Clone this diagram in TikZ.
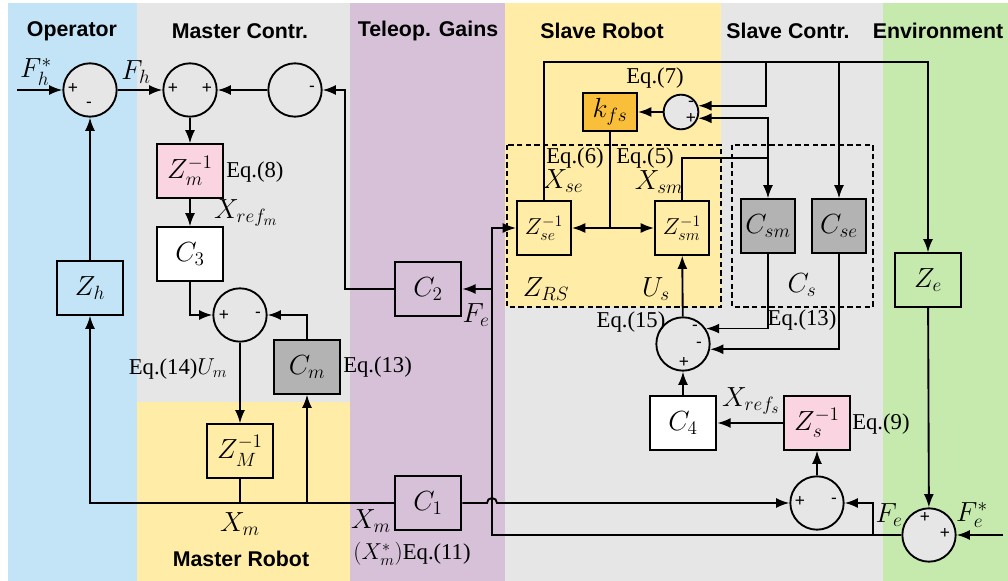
\documentclass[tikz,border=0pt]{standalone}
\usepackage{amsmath}
\usepackage{fontspec}
\setmainfont{Liberation Serif}
\newfontfamily\titlefont{Liberation Sans}
\usetikzlibrary{arrows.meta}

\definecolor{opblue}{RGB}{194,228,246}
\definecolor{ctrgray}{RGB}{230,230,230}
\definecolor{gainpurple}{RGB}{214,193,217}
\definecolor{robyellow}{RGB}{255,236,166}
\definecolor{envgreen}{RGB}{198,233,174}
\definecolor{blockpink}{RGB}{250,212,224}
\definecolor{blockgray}{RGB}{179,179,179}
\definecolor{kfsorange}{RGB}{249,190,58}

\begin{document}
\begin{tikzpicture}[x=0.75pt,y=-0.75pt,line width=1.4pt,
	>={Latex[length=10pt,width=7.5pt]},
	block/.style={draw,minimum width=50pt,minimum height=40pt,inner sep=0pt,font=\fontsize{21}{23}\selectfont},
	sqblock/.style={block,minimum width=40.5pt},
	tight/.style={font=\fontsize{17}{19}\selectfont},
	sum/.style={circle,draw,fill=ctrgray,minimum size=40pt,inner sep=0pt},
	sign/.style={font=\titlefont\fontsize{13}{14}\selectfont,inner sep=0pt},
	eq/.style={font=\fontsize{17}{19}\selectfont,inner sep=1pt},
	sig/.style={font=\fontsize{21}{23}\selectfont,inner sep=1pt},
	title/.style={font=\titlefont\bfseries\fontsize{16}{18}\selectfont,inner sep=0pt}]

		% bands
		\useasboundingbox (0,0) rectangle (1008,581);
		\fill [white] (0,0) rectangle (1008,581);
		\fill [opblue] (8,3) rectangle (137,581);
		\fill [ctrgray] (137,3) rectangle (350,402);
		\fill [robyellow] (137,402) rectangle (350,581);
		\fill [gainpurple] (350,3) rectangle (505,581);
		\fill [robyellow] (505,3) rectangle (721,307);
		\fill [ctrgray] (505,307) rectangle (883,581);
		\fill [ctrgray] (721,3) rectangle (883,307);
		\fill [envgreen] (883,3) rectangle (1008,581);

		\node [title] (t1) at (72,31) {Operator};
		\node [title] (t2) at (240,31) {Master Contr.};
		\node [title] (t3) at (428,31) {Teleop. Gains};
		\node [title] (t4) at (602,31) {Slave Robot};
		\node [title] (t5) at (788,31) {Slave Contr.};
		\node [title] (t6) at (938,31) {Environment};
		\node [title] (t7) at (241,559) {Master Robot};

		% dashed groups
		\draw [dashed,dash pattern=on 4pt off 2.5pt,line width=1.1pt] (507,145) rectangle (721,307);
		\draw [dashed,dash pattern=on 4pt off 2.5pt,line width=1.1pt] (732,145) rectangle (873,307);

		% sums
		\node [sum] (s1) at (90,90) {};
		\node [sum] (s2) at (190,90) {};
		\node [sum] (s3) at (295,90) {};
		\node [sum] (s4) at (240,315) {};
		\node [sum] (s5) at (817,503) {};
		\node [sum] (s6) at (929,535) {};
		\node [sum] (s7) at (683,344) {};
		\node [sum,minimum size=26pt] (s8) at (681,112) {};

		% blocks
		\node [block,fill=blockpink] (zm) at (190,171) {$Z_m^{-1}$};
		\node [block,fill=white] (c3) at (190,254) {$C_3$};
		\node [block] (zh) at (90,288) {$Z_h$};
		\node [block,fill=blockgray] (cm) at (307,367) {$C_m$};
		\node [block] (zM) at (240,451) {$Z_M^{-1}$};
		\node [block] (c1) at (428,503) {$C_1$};
		\node [block] (c2) at (428,289) {$C_2$};
		\node [sqblock,tight] (zse) at (544,228) {$Z_{se}^{-1}$};
		\node [sqblock,tight] (zsm) at (682,228) {$Z_{sm}^{-1}$};
		\node [sqblock,minimum height=29pt,fill=kfsorange] (kfs) at (610,112) {$k_{fs}$};
		\node [sqblock,fill=blockgray] (csm) at (768,226) {$C_{sm}$};
		\node [sqblock,fill=blockgray] (cse) at (839,226) {$C_{se}$};
		\node [block,fill=white] (c4) at (683,423) {$C_4$};
		\node [block,fill=blockpink] (zs) at (817,423) {$Z_s^{-1}$};
		\node [block] (ze) at (928,280) {$Z_e$};

		% free ends and junctions
		\coordinate (fhin) at (17,90);
		\coordinate (fein) at (1003,535);
		\coordinate (c2up) at (345,90);
		\coordinate (hop) at (487,503);
		\coordinate (fej) at (492,535);
		\coordinate (fe2) at (873,535);
		\coordinate (top) at (928,62);
		\coordinate (brk) at (766,62);
		\coordinate (sm2) at (768,158);

		% master side
		\draw [->] (fhin) -- (s1);
		\draw [->] (s1) -- (s2);
		\draw [->] (s3) -- (s2);
		\draw [->] (c2.west) -| (c2up) -- (s3.east);
		\draw [->] (s2) -- (zm);
		\draw [->] (zm) -- (c3);
		\draw [->] (c3.south) |- (s4.west);
		\draw [->] (cm.north) |- (s4.east);
		\draw [->] (s4) -- (zM);
		\draw [->] (zM.south) |- (zh.south |- c1.west) -- (zh.south);
		\draw (zM.south |- c1.west) -- (c1.west);
		\draw [->] (cm.south |- c1.west) -- (cm.south);
		\draw [->] (zh) -- (s1);

		% gains and crossing
		\draw [->] (c1.east) -- (hop) arc [start angle=180,end angle=0,radius=3.75pt] -- (s5.west);
		\draw [->] (s6.west) -- (fej) |- (zse.west);
		\draw [->] (fej |- c2.east) -- (c2.east);

		% slave side
		\draw [->] (fein) -- (s6.east);
		\draw [->] (fe2) |- (s5.east);
		\draw [->] (s5) -- (zs);
		\draw [->] (zs) -- (c4);
		\draw [->] (c4) -- (s7);
		\draw [->] (s7) -- (zsm);
		\draw [->] (csm.south) |- (s7.34);
		\draw [->] (cse.south) |- (s7.-11);
		\draw [->] (zse.north) |- (top) -- (ze.north);
		\draw [->] (brk) |- (s8.20);
		\draw [->] (cse.north |- top) -- (cse.north);
		\draw [->] (zsm.north) |- (sm2) -- (csm.north);
		\draw [->] (sm2) |- (s8.-20);
		\draw [->] (s8) -- (kfs);
		\draw (kfs.south) -- (kfs.south |- zse.east);
		\draw [->] (kfs.south |- zse.east) -- (zse.east);
		\draw [->] (kfs.south |- zse.east) -- (zsm.west);
		\draw [->] (ze) -- (s6);

		% signs
		\node [sign] (p1a) at (73,89) {+};
		\node [sign] (p1b) at (89,105) {-};
		\node [sign] (p2a) at (173,89) {+};
		\node [sign] (p2b) at (207,89) {+};
		\node [sign] (p3a) at (312,89) {-};
		\node [sign] (p4a) at (224,315) {+};
		\node [sign] (p4b) at (258,315) {-};
		\node [sign] (p5a) at (800,501) {+};
		\node [sign] (p5b) at (834,501) {-};
		\node [sign] (p6a) at (925,517) {+};
		\node [sign] (p6b) at (945,533) {+};
		\node [sign] (p7a) at (695,328) {-};
		\node [sign] (p7b) at (699,345) {-};
		\node [sign] (p7c) at (684,362) {+};
		\node [sign] (p8a) at (691,104) {-};
		\node [sign] (p8b) at (691,118) {+};

		% labels
		\node [sig] (lfhs) at (36,72) {$F_h^*$};
		\node [sig] (lfh) at (136,72) {$F_h$};
		\node [eq,right] (leq8) at (224,172) {Eq.(8)};
		\node [sig] (lxrm) at (246,213) {$X_{ref_m}$};
		\node [eq] (leq14) at (178,369) {Eq.(14)$\fontsize{21}{23}\selectfont U_m$};
		\node [eq,right] (leq13a) at (341,367) {Eq.(13)};
		\node [sig] (lxm1) at (240,524) {$X_m$};
		\node [sig] (lxm2) at (371,521) {$X_m$};
		\node [eq] (leq11) at (412,554) {$\fontsize{21}{23}\selectfont(X_m^*)$Eq.(11)};
		\node [sig] (lfe1) at (476,315) {$F_e$};
		\node [sig] (lzrs) at (546,289) {$Z_{RS}$};
		\node [sig] (lus) at (656,289) {$U_s$};
		\node [eq] (leq6) at (575,158) {Eq.(6)};
		\node [sig] (lxse) at (563,181) {$X_{se}$};
		\node [eq] (leq5) at (645,158) {Eq.(5)};
		\node [sig] (lxsm) at (659,182) {$X_{sm}$};
		\node [eq] (leq7) at (655,78) {Eq.(7)};
		\node [sig] (lcs) at (802,285) {$C_s$};
		\node [eq] (leq13b) at (802,320) {Eq.(13)};
		\node [eq] (leq15) at (631,322) {Eq.(15)};
		\node [sig] (lxrs) at (751,401) {$X_{ref_s}$};
		\node [eq,right] (leq9) at (850,424) {Eq.(9)};
		\node [sig] (lfe2) at (889,515) {$F_e$};
		\node [sig] (lfes) at (972,515) {$F_e^*$};
\end{tikzpicture}
\end{document}
